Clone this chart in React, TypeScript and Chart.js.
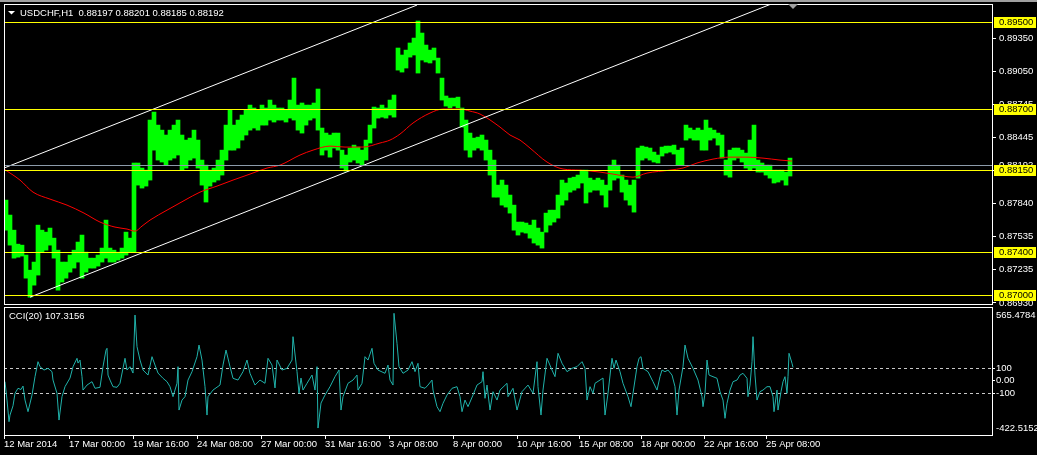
import React, { useEffect, useRef } from "react";
import { Chart, registerables } from "chart.js";

Chart.register(...registerables);

const FONT_FAMILY = "'Liberation Sans', Arial, sans-serif";
const FONT_SIZE = 9.5;

// ---------------- data ----------------
const symbolCaption = "USDCHF,H1";
const lastBarOHLC = ["0.88197", "0.88201", "0.88185", "0.88192"];
const bidPrice = 0.88192;

const timeLabels = [
  "12 Mar 2014", "17 Mar 00:00", "19 Mar 16:00", "24 Mar 08:00", "27 Mar 00:00",
  "31 Mar 16:00", "3 Apr 08:00", "8 Apr 00:00", "10 Apr 16:00", "15 Apr 08:00",
  "18 Apr 00:00", "22 Apr 16:00", "25 Apr 08:00",
];
const timeLabelBars = [0, 65, 129, 193, 257, 321, 385, 449, 513, 575, 637, 700, 762];

const priceTicks = [0.8935, 0.8905, 0.88745, 0.88445, 0.8814, 0.8784, 0.87535, 0.87235, 0.8693];
const levelPrices = [0.895, 0.887, 0.8815, 0.874, 0.87];

const priceSampleBars = 4; // each sample spans 4 hourly bars
const priceHigh = [
  0.87871, 0.87734, 0.87596, 0.87468, 0.87459, 0.87368, 0.8723, 0.87304, 0.87642, 0.87596,
  0.87578, 0.87615, 0.87523, 0.87413, 0.87304, 0.87304, 0.87368, 0.87413, 0.87487, 0.87551,
  0.87395, 0.8734, 0.8734, 0.87368, 0.87432, 0.87688, 0.87432, 0.87413, 0.87395, 0.87432,
  0.87578, 0.87523, 0.8821, 0.8821, 0.88164, 0.88145, 0.88603, 0.88676, 0.88557, 0.88511,
  0.88466, 0.88511, 0.88557, 0.88603, 0.88466, 0.8842, 0.88438, 0.88511, 0.8842, 0.88237,
  0.88191, 0.88145, 0.88164, 0.88237, 0.88328, 0.88557, 0.88694, 0.88557, 0.88603, 0.88649,
  0.88694, 0.8874, 0.88713, 0.88694, 0.8874, 0.88713, 0.88786, 0.8874, 0.88713, 0.88713,
  0.88694, 0.88786, 0.88987, 0.8874, 0.88759, 0.8874, 0.8874, 0.88759, 0.88887, 0.8853,
  0.88484, 0.88466, 0.88484, 0.88484, 0.88328, 0.88283, 0.88347, 0.88374, 0.88356, 0.88328,
  0.8842, 0.88557, 0.88722, 0.88713, 0.8874, 0.88713, 0.88786, 0.88832, 0.89262, 0.89198,
  0.89243, 0.89308, 0.89353, 0.89509, 0.89399, 0.89289, 0.89243, 0.89262, 0.8917, 0.88987,
  0.88823, 0.88804, 0.88804, 0.88813, 0.88713, 0.88603, 0.88484, 0.88438, 0.88447, 0.88466,
  0.8842, 0.88328, 0.88237, 0.88008, 0.88054, 0.88008, 0.87917, 0.87825, 0.8767, 0.8767,
  0.87661, 0.87642, 0.87688, 0.87615, 0.87578, 0.87752, 0.87779, 0.87779, 0.87917, 0.88054,
  0.88027, 0.88072, 0.88081, 0.881, 0.88145, 0.88145, 0.88072, 0.88054, 0.88072, 0.88054,
  0.88008, 0.88191, 0.88237, 0.88191, 0.881, 0.88054, 0.88008, 0.88054, 0.88347, 0.88365,
  0.88356, 0.88347, 0.8831, 0.88283, 0.88356, 0.88365, 0.88365, 0.88374, 0.88328, 0.88347,
  0.88557, 0.8853, 0.88511, 0.8853, 0.88511, 0.88603, 0.8853, 0.88511, 0.88484, 0.88466,
  0.88237, 0.88328, 0.88347, 0.88347, 0.88328, 0.88301, 0.8842, 0.88557, 0.88237, 0.8821,
  0.88191, 0.88191, 0.88145, 0.88145, 0.88145, 0.88127, 0.88255,
];
const priceLow = [
  0.87596, 0.87459, 0.8734, 0.87349, 0.87359, 0.87157, 0.86983, 0.87093, 0.87185, 0.87395,
  0.87413, 0.87459, 0.8734, 0.87047, 0.87121, 0.87157, 0.87212, 0.87249, 0.87304, 0.87157,
  0.87212, 0.87249, 0.87249, 0.87267, 0.87304, 0.8734, 0.87304, 0.87304, 0.87322, 0.8734,
  0.87368, 0.87395, 0.87395, 0.88008, 0.87981, 0.87999, 0.88054, 0.88328, 0.88237, 0.88219,
  0.88191, 0.88237, 0.88255, 0.88283, 0.88145, 0.88164, 0.88237, 0.88255, 0.88164, 0.88008,
  0.87853, 0.87999, 0.88036, 0.88054, 0.881, 0.88237, 0.88328, 0.88328, 0.88347, 0.8842,
  0.88466, 0.88511, 0.8853, 0.88511, 0.88557, 0.88557, 0.88603, 0.88585, 0.88603, 0.88603,
  0.88585, 0.88621, 0.88603, 0.88511, 0.88484, 0.88557, 0.88603, 0.88621, 0.88511, 0.88283,
  0.88328, 0.88264, 0.88347, 0.88328, 0.88164, 0.88136, 0.88219, 0.88237, 0.8821, 0.88191,
  0.88237, 0.88393, 0.8853, 0.88621, 0.8863, 0.88621, 0.88649, 0.8863, 0.8906, 0.89042,
  0.89079, 0.89179, 0.89198, 0.89033, 0.89152, 0.89134, 0.89125, 0.89152, 0.89033, 0.88786,
  0.88731, 0.88713, 0.88731, 0.88713, 0.88539, 0.88328, 0.88264, 0.88328, 0.88347, 0.88328,
  0.88237, 0.881, 0.87898, 0.87898, 0.87825, 0.87807, 0.87752, 0.87596, 0.87551, 0.87578,
  0.87569, 0.87523, 0.87478, 0.87459, 0.87432, 0.87578, 0.87642, 0.8767, 0.87706, 0.87825,
  0.87871, 0.87944, 0.87962, 0.87981, 0.88027, 0.87844, 0.87944, 0.87962, 0.87962, 0.87917,
  0.87807, 0.87962, 0.88054, 0.88072, 0.87944, 0.87871, 0.87825, 0.87761, 0.88072, 0.88237,
  0.88255, 0.88237, 0.88219, 0.8821, 0.88274, 0.88301, 0.8831, 0.88292, 0.88191, 0.88191,
  0.8842, 0.88438, 0.8842, 0.8842, 0.88328, 0.88328, 0.8842, 0.88438, 0.88374, 0.88255,
  0.881, 0.88081, 0.88237, 0.88255, 0.88219, 0.88164, 0.88145, 0.88164, 0.88127, 0.88127,
  0.881, 0.88072, 0.88027, 0.88036, 0.88054, 0.88008, 0.88091,
];

// moving average (red)
const maBars = [
  0, 16, 29, 46, 63, 80, 96, 111, 123, 131, 138, 146, 163, 181, 196, 213, 229, 246, 263, 276,
  296, 309, 326, 341, 359, 376, 386, 396, 409, 426, 439, 456, 466, 476, 496, 506, 516, 526, 543, 559,
  576, 596, 609, 629, 643, 666, 679, 693, 709, 726, 743, 759, 776, 788,
];
const maValues = [
  0.88155, 0.88054, 0.87944, 0.8788, 0.87825, 0.87752, 0.8767, 0.87624, 0.87606, 0.87587,
  0.87633, 0.87688, 0.87779, 0.87871, 0.87944, 0.87999, 0.88054, 0.88109, 0.88164, 0.88191,
  0.88283, 0.88328, 0.88365, 0.88356, 0.88356, 0.88393, 0.8842, 0.88475, 0.88576, 0.88667,
  0.88704, 0.88704, 0.88685, 0.88658, 0.88539, 0.88466, 0.8842, 0.88347, 0.88219, 0.88155,
  0.88145, 0.88127, 0.88109, 0.88081, 0.88118, 0.88145, 0.88164, 0.8821, 0.88246, 0.88264,
  0.88264, 0.88255, 0.88237, 0.88228,
];

// trend channel (white)
const upperChannelBars = [0, 413];
const upperChannelPrices = [0.88164, 0.89655];
const lowerChannelBars = [26, 766];
const lowerChannelPrices = [0.86983, 0.8966];

// CCI(20)
const cciPeriod = 20;
const cciLast = 107.3156;
const cciHigh = 565.4784;
const cciLow = -422.5152;
const cciLevels = [100, -100];
const cciTicks = [100, 0, -100];
const cciBars = [
  1, 3, 5, 6, 9, 11, 14, 17, 19, 21, 24, 28, 31, 34, 36, 40, 44, 48, 49, 53,
  55, 58, 61, 66, 69, 73, 74, 76, 78, 79, 83, 88, 91, 96, 99, 102, 103, 104, 106, 109,
  113, 116, 121, 123, 126, 129, 131, 133, 136, 139, 144, 148, 151, 154, 159, 163, 166, 169, 173, 174,
  175, 178, 181, 184, 188, 193, 195, 198, 201, 203, 204, 209, 216, 219, 222, 226, 229, 234, 239, 243,
  246, 251, 256, 261, 264, 268, 271, 273, 278, 283, 288, 289, 293, 295, 297, 299, 303, 308, 311, 313,
  314, 317, 321, 326, 331, 335, 337, 339, 344, 349, 353, 354, 358, 361, 364, 368, 370, 374, 381, 384,
  386, 389, 390, 393, 395, 399, 404, 408, 411, 414, 416, 421, 424, 428, 429, 433, 436, 439, 443, 448,
  453, 456, 458, 461, 464, 469, 473, 478, 479, 481, 483, 486, 489, 493, 496, 503, 504, 509, 513, 518,
  524, 529, 533, 534, 537, 539, 543, 548, 551, 554, 558, 563, 568, 573, 578, 581, 583, 586, 589, 591,
  596, 599, 601, 604, 607, 608, 610, 612, 616, 619, 624, 627, 629, 633, 635, 637, 639, 644, 649, 653,
  656, 658, 661, 664, 668, 671, 673, 675, 679, 681, 684, 689, 694, 698, 699, 701, 703, 705, 709, 713,
  716, 719, 721, 723, 726, 729, 733, 736, 739, 743, 744, 746, 748, 749, 751, 753, 756, 759, 763, 766,
  769, 770, 773, 774, 777, 779, 781, 783, 784, 785, 788, 789,
];
const cciValues = [
  -7, -154, -327, -274, -200, -100, -60, -70, -42, -154, -247, -114, 33, 153, 113, 86, 100, 73, 6, -100,
  -314, -127, -47, 22, 113, 180, 142, 166, 33, -74, -34, -7, -60, -52, 113, 246, 260, 46, 6, -47,
  -52, -20, 180, 86, 113, 62, 526, 273, 166, 86, 46, 193, 126, 62, 20, -7, -47, -127, -20, 113,
  -234, -154, -127, 6, 73, 193, 286, 166, -47, -274, -127, -74, -34, 126, 246, 113, 20, 6, 73, 166,
  60, -34, 6, -20, 180, 126, -57, 166, 86, 100, 166, 353, 73, -100, 22, -74, -20, 46, -74, 113,
  -378, -178, -114, -47, 33, 86, -234, -127, -20, 6, 46, -74, -20, 193, 166, 260, 140, 86, 60, 126,
  6, -34, 540, 300, 113, 60, 86, 153, 73, 140, -47, -60, -34, 6, -74, -207, -247, -180, -114, -60,
  -47, -127, -247, -154, -207, -114, -34, -7, 73, -140, -34, -234, -87, -154, -74, -20, -127, -60, -234, -87,
  -34, -100, 153, -47, -274, -74, 180, 86, 33, 220, 140, 73, 100, 113, 153, 100, -154, -47, -100, -20,
  6, 22, -274, -100, 113, 180, 100, 166, 73, -20, -127, -207, -100, 113, 180, 193, 100, 73, -7, -74,
  33, 86, 73, 86, 46, -47, -274, -74, 113, 286, 180, 100, 6, -127, -207, -100, 166, 46, 33, 20,
  -87, -154, -300, -180, -74, -7, 6, 46, 60, 20, -127, -34, 153, 353, 46, -154, -87, -74, -47, -47,
  -127, -247, -74, -234, -87, -7, 33, -100, 33, 220, 140, 107.3156,
];

// axis ranges (bars on x, one hour per bar)
const X_MIN = 0;
const X_MAX = 988;
const PRICE_MIN = 0.869205;
const PRICE_MAX = 0.896647;
const CCI_MIN = -433.6;
const CCI_MAX = 590.4;

const WIDTH = 1037;
const MAIN_H = 306;
const CCI_H = 149;

const font = () => `${FONT_SIZE}px ${FONT_FAMILY}`;

const mainDecor = {
  id: "mainDecor",
  afterDatasetsDraw(chart: any) {
    const { ctx, chartArea: a } = chart;
    const ys = chart.scales.y;
    ctx.save();
    ctx.lineWidth = 1;
    const by = Math.round(ys.getPixelForValue(bidPrice)) + 0.5;
    ctx.strokeStyle = "#8C9BAA";
    ctx.beginPath();
    ctx.moveTo(a.left, by);
    ctx.lineTo(a.right, by);
    ctx.stroke();
    ctx.strokeStyle = "#FFFF00";
    for (const p of levelPrices) {
      const py = Math.round(ys.getPixelForValue(p)) + 0.5;
      ctx.beginPath();
      ctx.moveTo(a.left, py);
      ctx.lineTo(a.right, py);
      ctx.stroke();
    }
    ctx.restore();
  },
  afterDraw(chart: any) {
    const { ctx, chartArea: a, width } = chart;
    const ys = chart.scales.y;
    ctx.save();
    // window frame strip
    ctx.fillStyle = "#A0A0A0";
    ctx.fillRect(0, 0, width, 2);
    // border
    ctx.strokeStyle = "#FFFFFF";
    ctx.lineWidth = 1;
    ctx.strokeRect(a.left + 0.5, a.top + 0.5, a.right - a.left, a.bottom - a.top);
    // chart shift marker
    ctx.fillStyle = "#A0A0A0";
    ctx.beginPath();
    ctx.moveTo(788, a.top);
    ctx.lineTo(798, a.top);
    ctx.lineTo(793, a.top + 5);
    ctx.closePath();
    ctx.fill();
    // title
    ctx.font = font();
    ctx.textBaseline = "middle";
    ctx.textAlign = "left";
    ctx.fillStyle = "#FFFFFF";
    ctx.beginPath();
    ctx.moveTo(8, 11);
    ctx.lineTo(15, 11);
    ctx.lineTo(11.5, 14.5);
    ctx.closePath();
    ctx.fill();
    ctx.fillText(`${symbolCaption}  ${lastBarOHLC.join(" ")}`, 20, 13);
    // bid label
    const by = Math.round(ys.getPixelForValue(bidPrice));
    ctx.fillStyle = "#FFFFFF";
    ctx.fillText(bidPrice.toFixed(5), a.right + 7, by);
    // level labels
    for (const p of levelPrices) {
      const py = Math.round(ys.getPixelForValue(p));
      ctx.fillStyle = "#FFFF00";
      ctx.fillRect(a.right + 2, py - 5, 42, 11);
      ctx.fillStyle = "#000000";
      ctx.fillText(p.toFixed(5), a.right + 7, py + 0.5);
    }
    ctx.restore();
  },
};

const cciDecor = {
  id: "cciDecor",
  beforeDatasetsDraw(chart: any) {
    const { ctx, chartArea: a } = chart;
    const ys = chart.scales.y;
    ctx.save();
    ctx.strokeStyle = "#C8C8C8";
    ctx.lineWidth = 1;
    ctx.setLineDash([3, 3]);
    for (const v of cciLevels) {
      const py = Math.round(ys.getPixelForValue(v)) + 0.5;
      ctx.beginPath();
      ctx.moveTo(a.left, py);
      ctx.lineTo(a.right, py);
      ctx.stroke();
    }
    ctx.restore();
  },
  afterDraw(chart: any) {
    const { ctx, chartArea: a } = chart;
    ctx.save();
    ctx.strokeStyle = "#FFFFFF";
    ctx.lineWidth = 1;
    ctx.strokeRect(a.left + 0.5, a.top + 0.5, a.right - a.left, a.bottom - a.top);
    ctx.font = font();
    ctx.textBaseline = "middle";
    ctx.textAlign = "left";
    ctx.fillStyle = "#FFFFFF";
    ctx.fillText(`CCI(${cciPeriod}) ${cciLast.toFixed(4)}`, 9, a.top + 9);
    ctx.fillText(cciHigh.toFixed(4), a.right + 4, a.top + 8);
    ctx.fillText(cciLow.toFixed(4), a.right + 4, a.bottom - 7);
    ctx.restore();
  },
};

export default function App() {
  const mainRef = useRef<HTMLCanvasElement>(null);
  const cciRef = useRef<HTMLCanvasElement>(null);

  useEffect(() => {
    const tickFont = { family: FONT_FAMILY, size: FONT_SIZE };

    const mainChart = new Chart(mainRef.current as HTMLCanvasElement, {
      type: "line",
      data: {
        datasets: [
          {
            type: "line",
            data: upperChannelBars.map((b, i) => ({ x: b, y: upperChannelPrices[i] })),
            borderColor: "#FFFFFF",
            borderWidth: 1,
            pointRadius: 0,
            order: 1,
          },
          {
            type: "line",
            data: lowerChannelBars.map((b, i) => ({ x: b, y: lowerChannelPrices[i] })),
            borderColor: "#FFFFFF",
            borderWidth: 1,
            pointRadius: 0,
            order: 1,
          },
          {
            type: "line",
            data: maBars.map((b, i) => ({ x: b, y: maValues[i] })),
            borderColor: "#FF0000",
            borderWidth: 1,
            pointRadius: 0,
            cubicInterpolationMode: "monotone",
            order: 2,
          },
          {
            type: "bar",
            data: priceHigh.map((h, i) => ({
              x: i * priceSampleBars + priceSampleBars / 2,
              y: [priceLow[i], h],
            })),
            backgroundColor: "#00FF00",
            borderWidth: 0,
            barThickness: priceSampleBars,
            grouped: false,
            order: 3,
          } as any,
        ],
      },
      options: {
        responsive: false,
        animation: false,
        events: [],
        layout: { padding: { left: 4, top: 4, right: 0, bottom: 2 } },
        plugins: { legend: { display: false }, tooltip: { enabled: false } },
        scales: {
          x: { type: "linear", min: X_MIN, max: X_MAX, display: false, offset: false },
          y: {
            type: "linear",
            position: "right",
            min: PRICE_MIN,
            max: PRICE_MAX,
            afterBuildTicks: (s: any) => {
              s.ticks = priceTicks.map((v) => ({ value: v }));
            },
            afterFit: (s: any) => {
              s.width = 45;
              s.paddingTop = 0;
              s.paddingBottom = 0;
            },
            ticks: {
              color: "#FFFFFF",
              font: tickFont,
              padding: 3,
              autoSkip: false,
              callback: (v: any) => Number(v).toFixed(5),
            },
            grid: { drawOnChartArea: false, drawTicks: true, tickLength: 4, color: "#FFFFFF" },
            border: { display: false },
          },
        },
      } as any,
      plugins: [mainDecor],
    });

    const cciChart = new Chart(cciRef.current as HTMLCanvasElement, {
      type: "line",
      data: {
        datasets: [
          {
            data: cciBars.map((b, i) => ({ x: b, y: cciValues[i] })),
            borderColor: "#20B2AA",
            borderWidth: 1,
            pointRadius: 0,
            tension: 0,
          },
        ],
      },
      options: {
        responsive: false,
        animation: false,
        events: [],
        layout: { padding: { left: 4, top: 1, right: 0, bottom: 0 } },
        plugins: { legend: { display: false }, tooltip: { enabled: false } },
        scales: {
          x: {
            type: "linear",
            min: X_MIN,
            max: X_MAX,
            offset: false,
            position: "bottom",
            afterBuildTicks: (s: any) => {
              s.ticks = timeLabelBars.map((v) => ({ value: v }));
            },
            afterFit: (s: any) => {
              s.height = 20;
              s.paddingLeft = 0;
              s.paddingRight = 0;
            },
            ticks: {
              color: "#FFFFFF",
              font: tickFont,
              padding: 0,
              align: "start",
              autoSkip: false,
              maxRotation: 0,
              minRotation: 0,
              callback: (_v: any, i: number) => timeLabels[i],
            },
            grid: { drawOnChartArea: false, drawTicks: true, tickLength: 4, color: "#FFFFFF" },
            border: { display: false },
          },
          y: {
            type: "linear",
            position: "right",
            min: CCI_MIN,
            max: CCI_MAX,
            afterBuildTicks: (s: any) => {
              s.ticks = cciTicks.map((v) => ({ value: v }));
            },
            afterFit: (s: any) => {
              s.width = 45;
              s.paddingTop = 0;
              s.paddingBottom = 0;
            },
            ticks: {
              color: "#FFFFFF",
              font: tickFont,
              padding: 1,
              autoSkip: false,
              callback: (v: any) => (Number(v) === 0 ? "0.00" : String(v)),
            },
            grid: { drawOnChartArea: false, drawTicks: true, tickLength: 3, color: "#FFFFFF" },
            border: { display: false },
          },
        },
      } as any,
      plugins: [cciDecor],
    });

    return () => {
      mainChart.destroy();
      cciChart.destroy();
    };
  }, []);

  return (
    <div
      style={{
        position: "absolute",
        left: 0,
        top: 0,
        width: WIDTH,
        height: MAIN_H + CCI_H,
        background: "#000000",
        overflow: "hidden",
      }}
    >
      <canvas
        ref={mainRef}
        width={WIDTH}
        height={MAIN_H}
        style={{ position: "absolute", left: 0, top: 0, width: WIDTH, height: MAIN_H }}
      />
      <canvas
        ref={cciRef}
        width={WIDTH}
        height={CCI_H}
        style={{ position: "absolute", left: 0, top: MAIN_H, width: WIDTH, height: CCI_H }}
      />
    </div>
  );
}
